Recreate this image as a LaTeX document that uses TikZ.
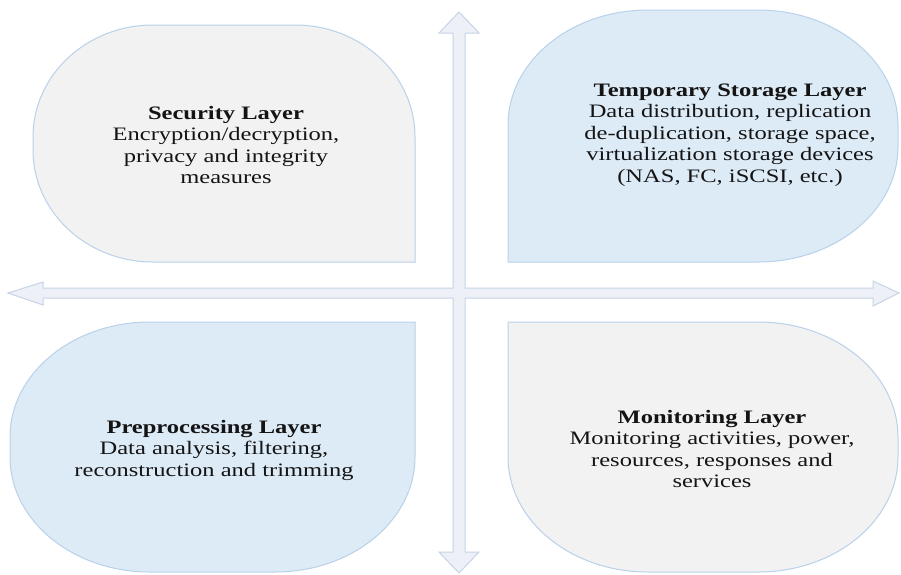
\documentclass[tikz,border=0pt]{standalone}
\usepackage{fontspec}
\setmainfont{Liberation Serif}
\definecolor{grayfill}{HTML}{F2F2F2}
\definecolor{bluefill}{HTML}{DDEBF7}
\definecolor{edgeblue}{HTML}{B9D1EA}
\definecolor{arrowfill}{HTML}{EDF1F7}
\definecolor{arrowedge}{HTML}{C6D4E6}
\tikzset{
  layergray/.style={fill=grayfill, draw=edgeblue, line width=1pt},
  layerblue/.style={fill=bluefill, draw=edgeblue, line width=1pt},
  crossarrow/.style={fill=arrowfill, draw=arrowedge, line width=1pt, line join=miter},
  layertext/.style={align=center, text=black!92, inner sep=0pt, xscale=1.29,
    font=\fontsize{19}{21.5}\selectfont}
}
\begin{document}
\begin{tikzpicture}[x=1pt,y=-1pt]
\useasboundingbox (0,0) rectangle (901,574);
\fill[white] (0,0) rectangle (901,574);

% four-headed cross arrow
\draw[crossarrow] (459,12) -- (479,33) -- (465,33) -- (465,288) -- (873,288) -- (873,281)
  -- (899,293) -- (873,306) -- (873,298) -- (465,298) -- (465,552) -- (479,552)
  -- (459,573) -- (439,552) -- (453,552) -- (453,298) -- (43,298) -- (43,305)
  -- (8,293) -- (43,282) -- (43,288) -- (453,288) -- (453,33) -- (439,33) -- cycle;

% Security layer (top-left)
\draw[layergray] (415,262) -- (153,262) .. controls (86.7,262) and (33,211.9) .. (33,150)
  -- (33,137) .. controls (33,75.1) and (86.7,25) .. (153,25)
  -- (295,25) .. controls (361.3,25) and (415,75.1) .. (415,137) -- cycle;

% Temporary storage layer (top-right)
\draw[layerblue] (508,262) -- (508,125) .. controls (508,61.5) and (570.7,10) .. (648,10)
  -- (758,10) .. controls (835.3,10) and (898,61.5) .. (898,125)
  -- (898,147) .. controls (898,210.5) and (835.3,262) .. (758,262) -- cycle;

% Preprocessing layer (bottom-left)
\draw[layerblue] (415,322) -- (415,457) .. controls (415,520.5) and (352.3,572) .. (275,572)
  -- (150,572) .. controls (72.7,572) and (10,520.5) .. (10,457)
  -- (10,437) .. controls (10,373.5) and (72.7,322) .. (150,322) -- cycle;

% Monitoring layer (bottom-right)
\draw[layergray] (508,322) -- (758,322) .. controls (835.3,322) and (898,373.5) .. (898,437)
  -- (898,457) .. controls (898,520.5) and (835.3,572) .. (758,572)
  -- (648,572) .. controls (570.7,572) and (508,520.5) .. (508,457) -- cycle;

\node[layertext] (sec) at (226,145) {\textbf{Security Layer}\\Encryption/decryption,\\privacy and integrity\\measures};
\node[layertext] (tmp) at (730,135) {\textbf{Temporary Storage Layer}\\Data distribution, replication\\de-duplication, storage space,\\virtualization storage devices\\(NAS, FC, iSCSI, etc.)};
\node[layertext] (pre) at (214,450) {\textbf{Preprocessing Layer}\\Data analysis, filtering,\\reconstruction and trimming};
\node[layertext] (mon) at (712,449) {\textbf{Monitoring Layer}\\Monitoring activities, power,\\resources, responses and\\services};
\end{tikzpicture}
\end{document}
